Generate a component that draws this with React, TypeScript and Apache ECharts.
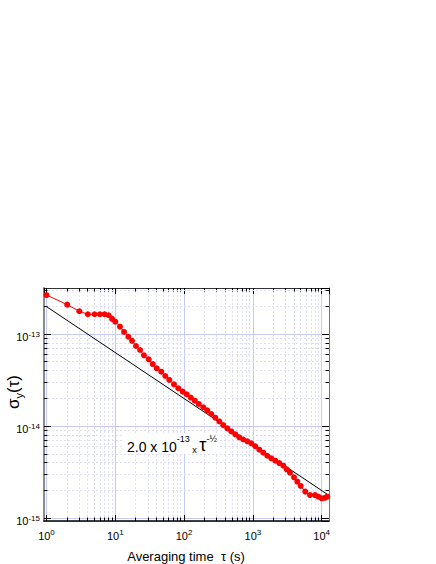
import React, { useEffect, useRef } from 'react';
import * as echarts from 'echarts';

// Averaging time tau (s) and Allan deviation sigma_y(tau)
const tau = [
  1, 2, 3, 4, 5, 6, 7, 8, 9, 10,
  11.7, 13.4, 15.5, 17.5, 20.0, 22.9, 26.1, 30.6, 35.0, 40.0,
  46.6, 53.3, 61.0, 71.3, 82.4, 95.5, 109, 125, 143, 163,
  190, 217, 248, 284, 325, 371, 425, 486, 555, 634,
  725, 829, 948, 1084, 1239, 1416, 1619, 1851, 2117, 2420,
  2767, 3098, 3459, 3958, 4418, 4952, 5777, 6761, 7997, 8932,
  10000, 11170, 12060,
];
const sigma = [
  2.67e-13, 2.10e-13, 1.78e-13, 1.65e-13, 1.65e-13, 1.65e-13, 1.65e-13, 1.61e-13, 1.47e-13, 1.37e-13,
  1.21e-13, 1.06e-13, 9.4e-14, 8.5e-14, 7.46e-14, 6.75e-14, 5.91e-14, 5.35e-14, 4.75e-14, 4.27e-14,
  3.92e-14, 3.52e-14, 3.19e-14, 2.86e-14, 2.59e-14, 2.38e-14, 2.23e-14, 2.05e-14, 1.90e-14, 1.75e-14,
  1.61e-14, 1.49e-14, 1.36e-14, 1.24e-14, 1.13e-14, 1.03e-14, 9.5e-15, 8.8e-15, 8.18e-15, 7.59e-15,
  7.19e-15, 6.87e-15, 6.53e-15, 6.07e-15, 5.57e-15, 5.17e-15, 4.79e-15, 4.49e-15, 4.23e-15, 3.99e-15,
  3.73e-15, 3.41e-15, 3.13e-15, 2.79e-15, 2.50e-15, 2.25e-15, 1.95e-15, 1.79e-15, 1.79e-15, 1.72e-15,
  1.65e-15, 1.67e-15, 1.72e-15,
];
// Reference line 2.0e-13 * tau^-1/2 (end points)
const fitTau = [1, 12000];
const fitSigma = [2.0e-13, 1.83e-15];

// Axis decades (log10) and minor multipliers
const xDecades = [0, 1, 2, 3, 4];
const yDecades = [-15, -14, -13];
const minorMultipliers = [2, 3, 4, 5, 6, 7, 8, 9];

const X_MIN = -0.036;
const X_MAX = 4.106;
const Y_MIN = -15.029;
const Y_MAX = -12.497;

const FONT = "'Liberation Sans', Arial, Helvetica, sans-serif";

const lg = (v: number) => Math.log10(v);

function minorTicks(decades: number[], lo: number, hi: number): number[] {
  const out: number[] = [];
  decades.forEach((d) => {
    minorMultipliers.forEach((k) => {
      const v = d + Math.log10(k);
      if (v > lo && v < hi) out.push(v);
    });
  });
  return out;
}

const pow10Label = (value: number) => {
  const r = Math.round(value);
  if (Math.abs(value - r) > 1e-6) return '';
  return `{b|10}{s|${r}}`;
};

const xLabelRich = {
  b: { fontFamily: FONT, fontSize: 11, color: '#000', lineHeight: 13, verticalAlign: 'bottom' },
  s: { fontFamily: FONT, fontSize: 8, color: '#000', lineHeight: 13, verticalAlign: 'top' },
};
const yLabelRich = {
  b: { fontFamily: FONT, fontSize: 11, color: '#000', lineHeight: 16, verticalAlign: 'bottom' },
  s: { fontFamily: FONT, fontSize: 8, color: '#000', lineHeight: 16, verticalAlign: 'middle' },
};

const crisp = (v: number) => Math.round(v - 0.5) + 0.5;

export default function App() {
  const ref = useRef<HTMLDivElement>(null);

  useEffect(() => {
    if (!ref.current) return;
    const chart = echarts.init(ref.current, undefined, { renderer: 'svg' });

    const xMinor = minorTicks(xDecades, X_MIN, X_MAX);
    const yMinor = minorTicks(yDecades, Y_MIN, Y_MAX);

    const mainData = tau.map((t, i) => [lg(t), lg(sigma[i])]);
    const fitData = fitTau.map((t, i) => [lg(t), lg(fitSigma[i])]);

    const minorStyle = { stroke: '#dedef9', lineWidth: 1, lineDash: [2, 2] };

    const option: any = {
      animation: false,
      backgroundColor: '#fff',
      grid: { left: 44, right: 107, top: 288, bottom: 43, containLabel: false },
      xAxis: [
        {
          type: 'value',
          min: X_MIN,
          max: X_MAX,
          splitNumber: 4,
          minInterval: 1,
          maxInterval: 1,
          position: 'bottom',
          axisLine: { show: true, onZero: false, lineStyle: { color: '#000', width: 1.5 } },
          axisTick: { show: true, inside: true, length: 6, lineStyle: { color: '#000' } },
          axisLabel: {
            show: true,
            margin: 7,
            formatter: pow10Label,
            rich: xLabelRich,
            showMinLabel: false,
            showMaxLabel: false,
          },
          splitLine: { show: true, lineStyle: { color: '#c8c8f6', width: 1 } },
        },
        {
          type: 'value',
          min: X_MIN,
          max: X_MAX,
          splitNumber: 4,
          minInterval: 1,
          maxInterval: 1,
          position: 'top',
          axisLine: { show: true, onZero: false, lineStyle: { color: '#333', width: 1 } },
          axisTick: { show: true, inside: true, length: 6, lineStyle: { color: '#000' } },
          axisLabel: { show: false },
          splitLine: { show: false },
        },
      ],
      yAxis: [
        {
          type: 'value',
          min: Y_MIN,
          max: Y_MAX,
          splitNumber: 3,
          minInterval: 1,
          maxInterval: 1,
          position: 'left',
          axisLine: { show: true, onZero: false, lineStyle: { color: '#8a8a8a', width: 2 } },
          axisTick: { show: true, inside: true, length: 7, lineStyle: { color: '#000' } },
          axisLabel: {
            show: true,
            margin: 4,
            formatter: pow10Label,
            rich: yLabelRich,
            showMinLabel: false,
            showMaxLabel: false,
          },
          splitLine: { show: true, lineStyle: { color: '#c8c8f6', width: 1 } },
        },
        {
          type: 'value',
          min: Y_MIN,
          max: Y_MAX,
          splitNumber: 3,
          minInterval: 1,
          maxInterval: 1,
          position: 'right',
          axisLine: { show: true, onZero: false, lineStyle: { color: '#777', width: 1 } },
          axisTick: { show: true, inside: true, length: 7, lineStyle: { color: '#000' } },
          axisLabel: { show: false },
          splitLine: { show: false },
        },
      ],
      series: [
        {
          type: 'custom',
          name: 'xMinor',
          xAxisIndex: 0,
          yAxisIndex: 0,
          z: 1,
          silent: true,
          clip: false,
          encode: { x: 0, y: 1 },
          data: xMinor.map((v) => [v, Y_MIN]),
          renderItem: (params: any, api: any) => {
            const v = api.value(0);
            const b = api.coord([v, Y_MIN]);
            const t = api.coord([v, Y_MAX]);
            const x = crisp(b[0]);
            return {
              type: 'group',
              children: [
                { type: 'line', shape: { x1: x, y1: b[1], x2: x, y2: t[1] }, style: minorStyle },
                { type: 'line', shape: { x1: x, y1: b[1], x2: x, y2: b[1] - 3.5 }, style: { stroke: '#000', lineWidth: 1 } },
                { type: 'line', shape: { x1: x, y1: t[1], x2: x, y2: t[1] + 3.5 }, style: { stroke: '#000', lineWidth: 1 } },
              ],
            };
          },
        },
        {
          type: 'custom',
          name: 'yMinor',
          xAxisIndex: 0,
          yAxisIndex: 0,
          z: 1,
          silent: true,
          clip: false,
          encode: { x: 0, y: 1 },
          data: yMinor.map((v) => [X_MIN, v]),
          renderItem: (params: any, api: any) => {
            const v = api.value(1);
            const l = api.coord([X_MIN, v]);
            const r = api.coord([X_MAX, v]);
            const y = crisp(l[1]);
            return {
              type: 'group',
              children: [
                { type: 'line', shape: { x1: l[0], y1: y, x2: r[0], y2: y }, style: minorStyle },
                { type: 'line', shape: { x1: l[0], y1: y, x2: l[0] + 3.5, y2: y }, style: { stroke: '#000', lineWidth: 1 } },
                { type: 'line', shape: { x1: r[0], y1: y, x2: r[0] - 3.5, y2: y }, style: { stroke: '#000', lineWidth: 1 } },
              ],
            };
          },
        },
        {
          type: 'line',
          name: 'fit',
          xAxisIndex: 0,
          yAxisIndex: 0,
          z: 3,
          data: fitData,
          showSymbol: false,
          symbol: 'none',
          lineStyle: { color: '#000', width: 1 },
          silent: true,
        },
        {
          type: 'line',
          name: 'sigma',
          xAxisIndex: 0,
          yAxisIndex: 0,
          z: 4,
          data: mainData,
          symbol: 'circle',
          symbolSize: 6,
          showSymbol: true,
          showAllSymbol: true,
          itemStyle: { color: '#ff0000' },
          lineStyle: { color: '#ff0000', width: 1 },
          silent: true,
        },
      ],
      graphic: [
        {
          type: 'rect',
          z: 10,
          shape: { x: 123, y: 433, width: 94, height: 21 },
          style: { fill: '#fff' },
        },
        {
          type: 'text',
          z: 11,
          x: 127,
          y: 444,
          style: {
            text: '{m|2.0 x 10}{s|-13}{x| x }{t|\u03c4}{s|-\u00bd}',
            align: 'left',
            verticalAlign: 'middle',
            rich: {
              m: { fontFamily: FONT, fontSize: 14, fill: '#000', lineHeight: 20, verticalAlign: 'bottom' },
              s: { fontFamily: FONT, fontSize: 9, fill: '#000', lineHeight: 20, verticalAlign: 'top' },
              x: { fontFamily: FONT, fontSize: 9, fill: '#000', lineHeight: 20, verticalAlign: 'bottom' },
              t: { fontFamily: FONT, fontSize: 18, fill: '#000', lineHeight: 20, verticalAlign: 'bottom' },
            },
          },
        },
        {
          type: 'text',
          z: 11,
          x: 186,
          y: 556,
          style: {
            text: 'Averaging time  \u03c4 (s)',
            fontFamily: FONT,
            fontSize: 13,
            fill: '#000',
            align: 'center',
            verticalAlign: 'middle',
          },
        },
        {
          type: 'text',
          z: 11,
          x: 13,
          y: 392,
          rotation: Math.PI / 2,
          style: {
            text: '{a|\u03c3}{b|y}{a|(\u03c4)}',
            align: 'center',
            verticalAlign: 'middle',
            rich: {
              a: { fontFamily: FONT, fontSize: 17, fill: '#000', lineHeight: 22, verticalAlign: 'middle' },
              b: { fontFamily: FONT, fontSize: 11, fill: '#000', lineHeight: 22, verticalAlign: 'bottom' },
            },
          },
        },
      ],
    };

    chart.setOption(option);
    return () => chart.dispose();
  }, []);

  return (
    <div
      ref={ref}
      style={{ position: 'fixed', left: 0, top: 0, width: 436, height: 564, background: '#fff' }}
    />
  );
}
